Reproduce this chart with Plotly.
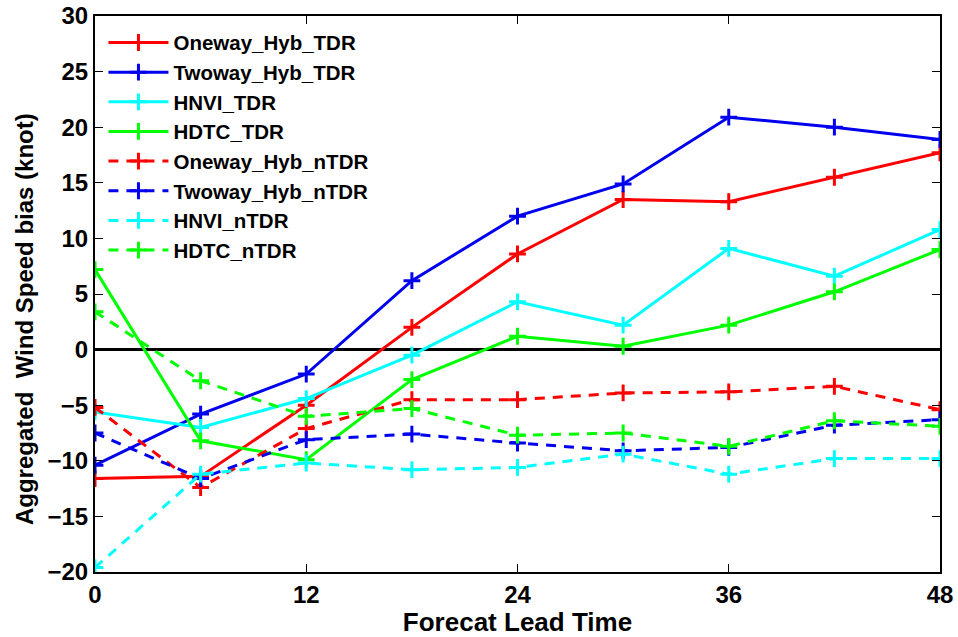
import plotly.graph_objects as go

lead_time = [0, 6, 12, 18, 24, 30, 36, 42, 48]

oneway_hyb_tdr = [-11.6, -11.4, -5.0, 2.0, 8.6, 13.5, 13.3, 15.5, 17.7]
twoway_hyb_tdr = [-10.4, -5.8, -2.2, 6.2, 12.0, 14.9, 20.9, 20.0, 18.9]
hnvi_tdr = [-5.6, -7.0, -4.4, -0.5, 4.3, 2.2, 9.1, 6.6, 10.8]
hdtc_tdr = [7.2, -8.2, -9.9, -2.7, 1.2, 0.3, 2.2, 5.2, 9.0]
oneway_hyb_ntdr = [-5.2, -12.4, -7.1, -4.5, -4.5, -3.9, -3.8, -3.3, -5.4]
twoway_hyb_ntdr = [-7.5, -11.6, -8.1, -7.6, -8.4, -9.1, -8.8, -6.8, -6.3]
hnvi_ntdr = [-19.6, -11.2, -10.2, -10.8, -10.6, -9.4, -11.2, -9.8, -9.8]
hdtc_ntdr = [3.4, -2.8, -6.0, -5.3, -7.7, -7.5, -8.7, -6.4, -6.9]

series = [
    ("Oneway_Hyb_TDR", oneway_hyb_tdr, "#ff0000", "solid"),
    ("Twoway_Hyb_TDR", twoway_hyb_tdr, "#0000ee", "solid"),
    ("HNVI_TDR", hnvi_tdr, "#00ffff", "solid"),
    ("HDTC_TDR", hdtc_tdr, "#00ff00", "solid"),
    ("Oneway_Hyb_nTDR", oneway_hyb_ntdr, "#ff0000", "10px,8px"),
    ("Twoway_Hyb_nTDR", twoway_hyb_ntdr, "#0000ee", "10px,8px"),
    ("HNVI_nTDR", hnvi_ntdr, "#00ffff", "10px,8px"),
    ("HDTC_nTDR", hdtc_ntdr, "#00ff00", "10px,8px"),
]

fig = go.Figure()
for name, vals, color, dash in series:
    fig.add_trace(go.Scatter(
        x=lead_time, y=vals, name=name, mode="lines+markers",
        line=dict(color=color, width=3, dash=dash),
        marker=dict(symbol="cross-thin", size=12, line=dict(color=color, width=3)),
    ))

font_family = "Liberation Sans, Arial, sans-serif"
fig.update_layout(
    width=958, height=637,
    margin=dict(l=95, r=18, t=16, b=65),
    plot_bgcolor="white", paper_bgcolor="white",
    font=dict(family=font_family, color="black", size=20),
    showlegend=True,
    legend=dict(x=0.01, y=0.988, xanchor="left", yanchor="top",
                bgcolor="rgba(0,0,0,0)", font=dict(size=20.5, family=font_family, weight="bold"),
                itemwidth=60, tracegroupgap=0),
    xaxis=dict(range=[0, 48], tickvals=[0, 12, 24, 36, 48], ticks="inside", ticklen=8,
               tickwidth=1, tickcolor="black", showline=True, linecolor="black", linewidth=2,
               mirror="ticks", showgrid=False, zeroline=False, automargin=False,
               tickfont=dict(size=24, family=font_family, weight="bold"),
               title=dict(text="<b>Forecat Lead Time</b>", font=dict(size=26), standoff=0)),
    yaxis=dict(range=[-20, 30], dtick=5, ticks="inside", ticklen=8,
               tickwidth=1, tickcolor="black", showline=True, linecolor="black", linewidth=2,
               mirror="ticks", showgrid=False, zeroline=True, zerolinecolor="black",
               zerolinewidth=3, automargin=False,
               tickfont=dict(size=24, family=font_family, weight="bold")),
    annotations=[dict(text="<b>Aggregated  Wind Speed bias (knot)</b>", textangle=-90,
                      xref="paper", yref="paper", x=-0.084, y=0.455,
                      xanchor="center", yanchor="middle", showarrow=False,
                      font=dict(size=24, family=font_family, color="black"))],
)

fig.write_html("out.html")
